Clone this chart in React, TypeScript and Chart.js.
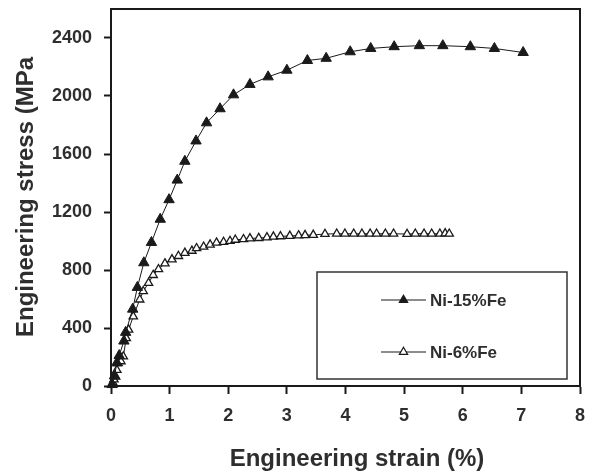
import React, { useEffect, useRef } from 'react';
import { Chart, registerables } from 'chart.js';

Chart.register(...registerables);

const SERIES_A_LABEL = 'Ni-15%Fe';
const SERIES_B_LABEL = 'Ni-6%Fe';

const SERIES_A_STRAIN = [0.02, 0.06, 0.1, 0.14, 0.22, 0.25, 0.37, 0.45, 0.56, 0.69, 0.84, 0.99, 1.13, 1.26, 1.45, 1.63, 1.86, 2.09, 2.37, 2.68, 3.0, 3.35, 3.67, 4.08, 4.43, 4.83, 5.26, 5.66, 6.13, 6.54, 7.03];
const SERIES_A_STRESS = [10, 70, 160, 210, 310, 370, 530, 680, 850, 990, 1150, 1285, 1420, 1550, 1690, 1815, 1912, 2008, 2080, 2132, 2178, 2245, 2260, 2305, 2328, 2340, 2347, 2347, 2340, 2328, 2300];

const SERIES_B_STRAIN = [0.03, 0.05, 0.08, 0.1, 0.12, 0.17, 0.21, 0.26, 0.3, 0.38, 0.49, 0.55, 0.64, 0.72, 0.81, 0.92, 1.04, 1.15, 1.26, 1.38, 1.46, 1.58, 1.69, 1.8, 1.92, 2.03, 2.12, 2.26, 2.37, 2.52, 2.66, 2.77, 2.89, 3.05, 3.2, 3.31, 3.45, 3.65, 3.85, 3.99, 4.14, 4.28, 4.42, 4.53, 4.68, 4.82, 5.05, 5.19, 5.34, 5.47, 5.61, 5.7, 5.77];
const SERIES_B_STRESS = [25, 45, 64, 110, 157, 170, 203, 330, 388, 480, 596, 653, 710, 765, 805, 845, 873, 896, 918, 932, 950, 960, 975, 988, 993, 1000, 1008, 1012, 1018, 1020, 1025, 1030, 1032, 1035, 1038, 1040, 1042, 1048, 1050, 1050, 1050, 1050, 1050, 1050, 1050, 1050, 1048, 1050, 1050, 1050, 1050, 1052, 1050];

const X_TICKS = [0, 1, 2, 3, 4, 5, 6, 7, 8];
const Y_TICKS = [0, 400, 800, 1200, 1600, 2000, 2400];
const X_MAX = 8;
const Y_MAX = 2600;
const X_TITLE = 'Engineering strain (%)';
const Y_TITLE = 'Engineering stress (MPa';

const FONT = 'Arial, "Liberation Sans", sans-serif';
const INK = '#1a1a1a';
const TEXT = '#2e2e2e';

function drawTriangle(ctx: CanvasRenderingContext2D, x: number, y: number, r: number, filled: boolean) {
  ctx.beginPath();
  for (let i = 0; i < 3; i++) {
    const a = (i * 2 * Math.PI) / 3;
    const px = x + Math.sin(a) * r;
    const py = y - Math.cos(a) * r;
    if (i === 0) ctx.moveTo(px, py);
    else ctx.lineTo(px, py);
  }
  ctx.closePath();
  if (filled) {
    ctx.fillStyle = INK;
    ctx.fill();
  } else {
    ctx.fillStyle = '#fff';
    ctx.fill();
    ctx.lineWidth = 1.2;
    ctx.strokeStyle = INK;
    ctx.stroke();
  }
}

const framePlugin = {
  id: 'frameAndLegend',
  afterDraw(chart: any) {
    const { ctx, chartArea: a } = chart;
    ctx.save();
    ctx.strokeStyle = INK;
    ctx.lineWidth = 2;
    ctx.strokeRect(a.left, a.top, a.right - a.left, a.bottom - a.top);

    const bx = a.left + 206;
    const by = a.top + 263;
    const bw = 250;
    const bh = 107;
    ctx.fillStyle = '#fff';
    ctx.fillRect(bx, by, bw, bh);
    ctx.lineWidth = 1.5;
    ctx.strokeStyle = '#333';
    ctx.strokeRect(bx, by, bw, bh);

    const entries = chart.data.datasets.map((ds: any, i: number) => ({
      label: ds.label,
      filled: i === 0,
      r: ds.pointRadius,
    }));
    entries.forEach((e: any, i: number) => {
      const cy = by + 28 + i * 52;
      const x0 = bx + 64;
      const x1 = bx + 109;
      ctx.beginPath();
      ctx.moveTo(x0, cy);
      ctx.lineTo(x1, cy);
      ctx.lineWidth = 1.2;
      ctx.strokeStyle = INK;
      ctx.stroke();
      drawTriangle(ctx, (x0 + x1) / 2, cy, e.r, e.filled);
      ctx.fillStyle = TEXT;
      ctx.font = `bold 17px ${FONT}`;
      ctx.textAlign = 'left';
      ctx.textBaseline = 'middle';
      ctx.fillText(e.label, x1 + 4, cy + 1);
    });

    ctx.fillStyle = TEXT;
    ctx.font = `bold 24px ${FONT}`;
    ctx.textAlign = 'center';
    ctx.textBaseline = 'alphabetic';
    ctx.fillText(X_TITLE, 357, 466);

    ctx.translate(33, 197);
    ctx.rotate(-Math.PI / 2);
    ctx.fillText(Y_TITLE, 0, 0);
    ctx.restore();
  },
};

export default function App() {
  const ref = useRef<HTMLCanvasElement | null>(null);

  useEffect(() => {
    if (!ref.current) return;
    const chart = new Chart(ref.current, {
      type: 'line',
      data: {
        datasets: [
          {
            label: SERIES_A_LABEL,
            data: SERIES_A_STRAIN.map((x, i) => ({ x, y: SERIES_A_STRESS[i] })),
            borderColor: INK,
            borderWidth: 1,
            pointStyle: 'triangle',
            pointRadius: 6,
            pointBackgroundColor: INK,
            pointBorderColor: INK,
            pointBorderWidth: 1,
            tension: 0,
            clip: false,
          },
          {
            label: SERIES_B_LABEL,
            data: SERIES_B_STRAIN.map((x, i) => ({ x, y: SERIES_B_STRESS[i] })),
            borderColor: INK,
            borderWidth: 1,
            pointStyle: 'triangle',
            pointRadius: 4.8,
            pointBackgroundColor: '#fff',
            pointBorderColor: INK,
            pointBorderWidth: 1.3,
            tension: 0,
            clip: false,
          },
        ],
      },
      options: {
        animation: false,
        responsive: false,
        layout: { padding: { top: 9, right: 9, left: 0, bottom: 0 } },
        plugins: {
          legend: { display: false },
          tooltip: { enabled: false },
        },
        scales: {
          x: {
            type: 'linear',
            min: 0,
            max: X_MAX,
            afterFit: (s: any) => {
              s.height = 86;
              s.paddingLeft = 0;
              s.paddingRight = 0;
            },
            afterBuildTicks: (s: any) => {
              s.ticks = X_TICKS.map((v) => ({ value: v }));
            },
            ticks: {
              color: TEXT,
              font: { family: FONT, size: 18, weight: 'bold' },
              padding: 11,
              maxRotation: 0,
              autoSkip: false,
              callback: (v: any) => String(v),
            },
            grid: {
              drawOnChartArea: false,
              tickLength: 8,
              tickWidth: 2,
              tickColor: INK,
            },
            border: { display: true, color: INK, width: 2 },
            title: { display: false },
          },
          y: {
            type: 'linear',
            min: 0,
            max: Y_MAX,
            afterFit: (s: any) => {
              s.width = 111;
              s.paddingTop = 0;
              s.paddingBottom = 0;
            },
            afterBuildTicks: (s: any) => {
              s.ticks = Y_TICKS.map((v) => ({ value: v }));
            },
            ticks: {
              color: TEXT,
              font: { family: FONT, size: 18, weight: 'bold' },
              padding: 12,
              autoSkip: false,
              callback: (v: any) => String(v),
            },
            grid: {
              drawOnChartArea: false,
              tickLength: 7,
              tickWidth: 2,
              tickColor: INK,
            },
            border: { display: true, color: INK, width: 2 },
            title: { display: false },
          },
        },
      },
      plugins: [framePlugin],
    });
    return () => chart.destroy();
  }, []);

  return (
    <div style={{ position: 'absolute', left: 0, top: 0, width: 589, height: 472, background: '#fff' }}>
      <canvas ref={ref} width={589} height={472} style={{ display: 'block' }} />
    </div>
  );
}
